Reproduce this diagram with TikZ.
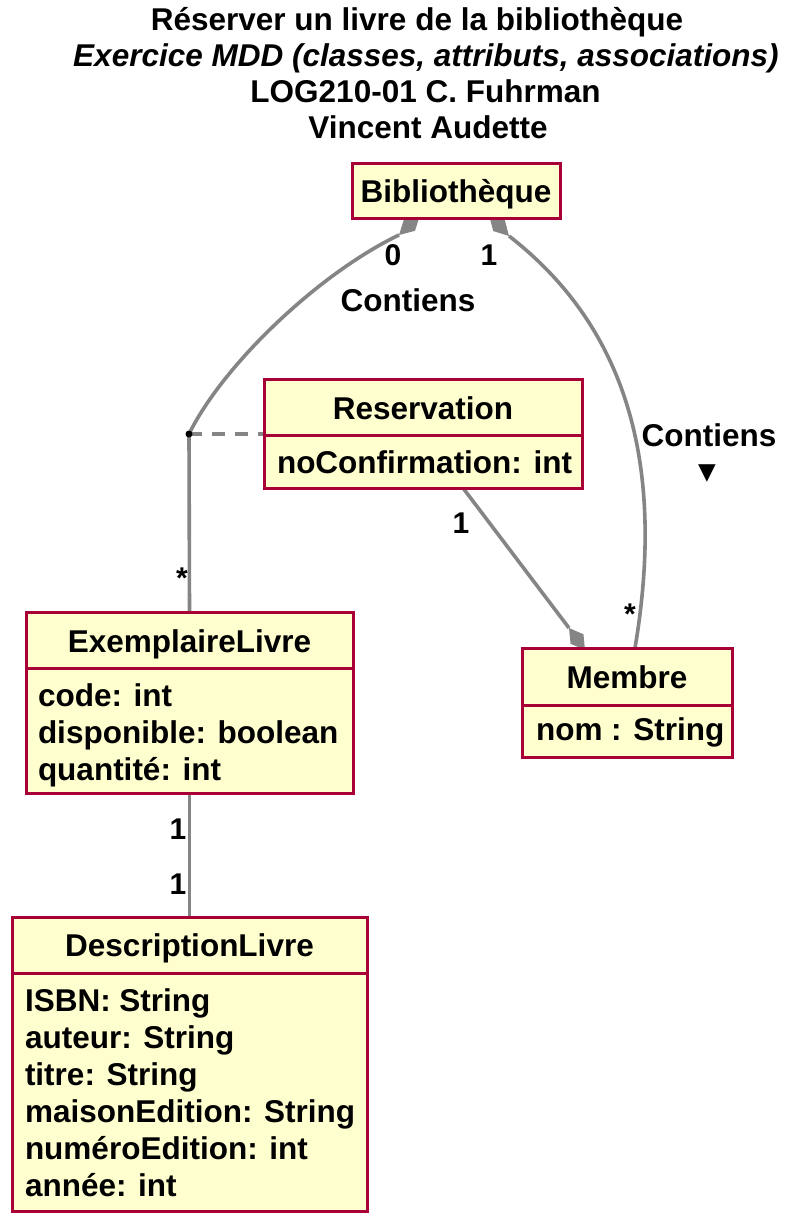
\documentclass[tikz,border=0pt]{standalone}
\usepackage{fontspec}
\setmainfont{Liberation Sans}
\newfontfamily\symfont{DejaVu Sans}
\usetikzlibrary{calc}
\definecolor{clsborder}{HTML}{A80036}
\definecolor{clsfill}{HTML}{FEFECE}
\definecolor{linkgray}{HTML}{858585}
\newcommand\uBody{\fontsize{31.5}{37}\selectfont\bfseries}
\newcommand\uMult{\fontsize{30}{34}\selectfont\bfseries}
\begin{document}
\begin{tikzpicture}[x=1pt,y=-1pt,
  cls/.style={draw=clsborder, fill=clsfill, line width=3pt, inner sep=0pt, outer sep=0pt, rectangle},
  sepline/.style={draw=clsborder, line width=3pt},
  txt/.style={inner sep=0pt, outer sep=0pt, font=\uBody, anchor=base},
  attr/.style={txt, anchor=base west},
  mult/.style={inner sep=0pt, outer sep=0pt, font=\uMult, anchor=base},
  assoc/.style={draw=linkgray, line width=3.6pt},
  dia/.style={fill=linkgray},
  dashlink/.style={draw=linkgray, line width=3.6pt, dash pattern=on 13pt off 10pt}]
\path[use as bounding box, fill=white] (0,0) rectangle (802,1230);

% title
\node[txt] (t1) at (417,31) {Réserver un livre de la bibliothèque};
\node[txt, font=\uBody\itshape] (t2) at (426,67) {Exercice MDD (classes, attributs, associations)};
\node[txt] (t3) at (425.5,103) {LOG210-01 C. Fuhrman};
\node[txt] (t4) at (428,139) {Vincent Audette};

% class box shapes (positions only)
\path (456,191.5) node[cls, minimum width=208pt, minimum height=55pt, draw=none, fill=none] (biblio) {};
\path (423,433.5) node[cls, minimum width=318pt, minimum height=109pt, draw=none, fill=none] (res) {};
\path (189.5,702.5) node[cls, minimum width=327pt, minimum height=181pt, draw=none, fill=none] (exemp) {};
\path (627,702.5) node[cls, minimum width=210pt, minimum height=109pt, draw=none, fill=none] (membre) {};
\path (189.5,1064) node[cls, minimum width=355pt, minimum height=294pt, draw=none, fill=none] (desc) {};

% connector coordinates
\coordinate (d1t) at ($(biblio.south)+(-36,-4)$);
\coordinate (d1b) at ($(biblio.south)+(-57,16)$);
\coordinate (d2t) at ($(biblio.south)+(33,-4)$);
\coordinate (d2b) at ($(biblio.south)+(53,17)$);
\coordinate (j) at (189,434);
\coordinate (m2) at ($(membre.north)+(8,0)$);
\coordinate (r1) at ($(res.south)+(40,0)$);
\coordinate (d3t) at ($(membre.north)+(-42,2)$);
\coordinate (d3b) at ($(membre.north)+(-58,-20)$);

% connectors
\draw[assoc] (d1b) .. controls (318,274) and (223,365) .. (j);
\draw[assoc] (j) -- (exemp.north);
\draw[dashlink] (j) -- (res.west |- j);
\draw[assoc] (d2b) .. controls (630,330) and (665,470) .. (m2);
\draw[assoc] (r1) -- (d3b);
\draw[assoc] (exemp.south) -- (desc.north);

% diamonds
\foreach \d in {d1,d2,d3}{
  \coordinate (\d m) at ($(\d t)!0.5!(\d b)$);
  \fill[dia] (\d t) -- ($(\d m)!8pt!90:(\d t)$) -- (\d b) -- ($(\d m)!8pt!-90:(\d t)$) -- cycle;
}
\fill (j) circle (3.5);

% boxes drawn over connectors
\node[cls, minimum width=208pt, minimum height=55pt] (biblioBox) at (biblio) {};
\node[cls, minimum width=318pt, minimum height=109pt] (resBox) at (res) {};
\node[cls, minimum width=327pt, minimum height=181pt] (exempBox) at (exemp) {};
\node[cls, minimum width=210pt, minimum height=109pt] (membreBox) at (membre) {};
\node[cls, minimum width=355pt, minimum height=294pt] (descBox) at (desc) {};

% separators
\draw[sepline] (resBox.west |- 0,435) -- (resBox.east |- 0,435);
\draw[sepline] (exempBox.west |- 0,668) -- (exempBox.east |- 0,668);
\draw[sepline] (membreBox.west |- 0,705) -- (membreBox.east |- 0,705);
\draw[sepline] (descBox.west |- 0,973) -- (descBox.east |- 0,973);

% class texts
\node[txt] (bibT) at (456,203) {Bibliothèque};
\node[txt] (resT) at (423,419) {Reservation};
\node[attr] (resA) at (277,473) {noConfirmation: int};
\node[txt] (exT) at (189.5,652) {ExemplaireLivre};
\node[attr] (exA1) at (38,706) {code: int};
\node[attr] (exA2) at (38,743) {disponible: boolean};
\node[attr] (exA3) at (38,780) {quantité: int};
\node[txt] (meT) at (627,688) {Membre};
\node[attr] (meA) at (536,740) {nom : String};
\node[txt] (deT) at (189.5,956) {DescriptionLivre};
\node[attr] (deA1) at (25,1011) {ISBN: String};
\node[attr] (deA2) at (25,1048) {auteur: String};
\node[attr] (deA3) at (25,1085) {titre: String};
\node[attr] (deA4) at (25,1122) {maisonEdition: String};
\node[attr] (deA5) at (25,1159) {numéroEdition: int};
\node[attr] (deA6) at (25,1196) {année: int};

% labels
\node[mult] (m0) at (393,266) {0};
\node[mult] (m1) at (489,266) {1};
\node[txt] (c1) at (408,311.5) {Contiens};
\node[txt] (c2) at (709,446.5) {Contiens};
\node[inner sep=0pt, font=\symfont\fontsize{23}{26}\selectfont] (tri) at (707,474) {▼};
\node[mult] (m2l) at (461,533) {1};
\node[mult] (s1) at (630,624) {*};
\node[mult] (s2) at (182,588) {*};
\node[mult] (m3) at (178,839) {1};
\node[mult] (m4) at (178,894) {1};
\end{tikzpicture}
\end{document}
